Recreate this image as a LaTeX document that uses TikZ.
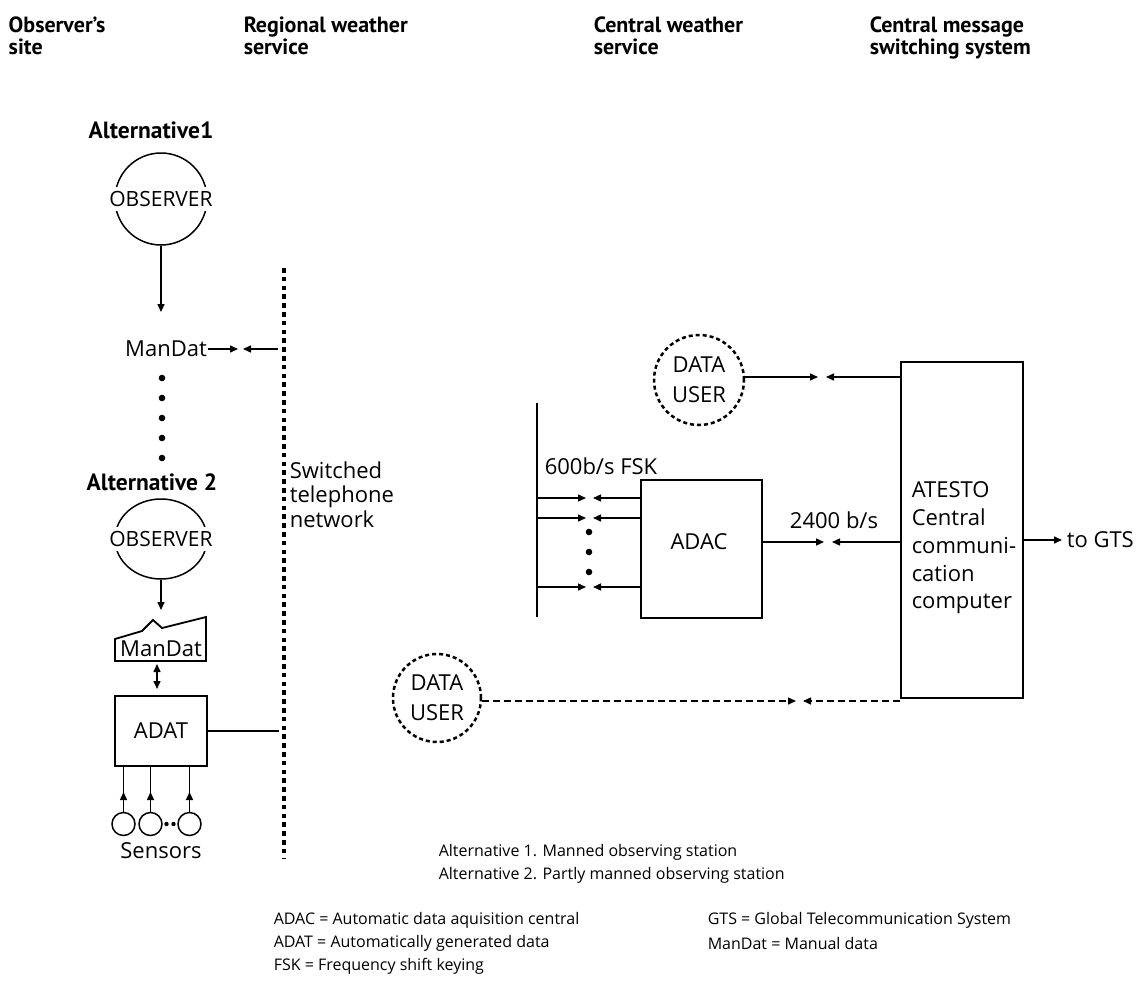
\documentclass[tikz,border=0pt]{standalone}
\usepackage{fontspec}
\setmainfont{Open Sans}
\newfontfamily\hdrfont{PT Sans}
\usetikzlibrary{arrows.meta,shapes.geometric,calc}
\begin{document}
\begin{tikzpicture}[x=1pt,y=-1pt,
  line width=1.5pt,
  lbl/.style={font=\fontsize{22}{25}\selectfont, inner sep=0pt},
  leg/.style={font=\fontsize{16}{24}\selectfont, inner sep=0pt, anchor=west},
  hdr/.style={font=\hdrfont\bfseries\fontsize{22}{22}\selectfont, align=left, anchor=north west, inner sep=0pt},
  alt/.style={font=\hdrfont\bfseries\fontsize{23.5}{24}\selectfont, inner sep=0pt},
  arr/.style={-{Triangle[length=8pt,width=7pt]}},
  darr/.style={{Triangle[length=8pt,width=7pt]}-{Triangle[length=8pt,width=7pt]}},
  boxnode/.style={draw, rectangle, line width=1.8pt, inner sep=0pt},
  dashcirc/.style={draw, circle, line width=2.5pt, dash pattern=on 4pt off 3pt, inner sep=0pt},
  netline/.style={line width=3.5pt, dash pattern=on 4.5pt off 4.3pt}
]
\useasboundingbox (0,0) rectangle (1140,980);

% headers
\node[hdr] (h1) at (8,16) {Observer’s\\site};
\node[hdr] (h2) at (243,16) {Regional weather\\service};
\node[hdr] (h3) at (593,16) {Central weather\\service};
\node[hdr] (h4) at (869,16) {Central message\\switching system};

% Alternative 1
\node[alt] (alt1) at (151,130) {Alternative1};
\node[draw, circle, minimum size=92pt, inner sep=0pt] (obs1) at (161,199) {};
\node[lbl, font=\fontsize{21}{25}\selectfont, fill=white, inner xsep=1pt, inner ysep=4pt] (obs1t) at (obs1.center) {OBSERVER};
\coordinate (m1tip) at (161,312);
\draw[arr] (obs1.south) -- (m1tip);

\node[lbl] (man1) at (166,349) {ManDat};
\coordinate (man1tip) at (238,349);
\coordinate (net1) at (278,349);
\coordinate (net1tip) at (243,349);
\draw[arr] (man1.east) -- (man1tip);
\draw[arr] (net1) -- (net1tip);

% dots column
\foreach \yy in {378,398,418,438,458} \fill (162,\yy) circle (3.3);

% Alternative 2
\node[alt] (alt2) at (152,482) {Alternative 2};
\node[draw, ellipse, minimum width=92pt, minimum height=80pt, inner sep=0pt] (obs2) at (161,539) {};
\node[lbl, font=\fontsize{21}{25}\selectfont, fill=white, inner xsep=1pt, inner ysep=4pt] (obs2t) at (obs2.center) {OBSERVER};
\coordinate (m2tip) at (161,610);
\draw[arr] (obs2.south) -- (m2tip);

% ManDat document
\draw[line width=1.8pt] (115,661) -- (115,639) -- (142,631) -- (153,620) -- (162,628) -- (206,617) -- (206,661) -- cycle;
\node[lbl] (man2) at (161,649) {ManDat};

% ADAT
\node[boxnode, minimum width=92pt, minimum height=70pt, lbl] (adat) at (161,731) {ADAT};
\coordinate (da) at (157,664);
\coordinate (db) at (157,689);
\draw[darr] (da) -- (db);

% sensors
\node[draw, circle, minimum size=23pt, inner sep=0pt] (s1) at (123.5,824) {};
\node[draw, circle, minimum size=23pt, inner sep=0pt] (s2) at (150.5,824) {};
\node[draw, circle, minimum size=23pt, inner sep=0pt] (s3) at (189.5,824) {};
\fill (166.5,824) circle (2.2);
\fill (173.5,824) circle (2.2);
\coordinate (stip) at (0,792);
\foreach \s in {s1,s2,s3} {
  \draw (\s.north) -- (\s.north |- adat.south);
  \draw[arr] (\s.north) -- (\s.north |- stip);
}
\node[lbl] (sens) at (161,851) {Sensors};

% switched network
\coordinate (nettop) at (284,268);
\coordinate (netbot) at (284,858);
\draw[netline] (nettop) -- (netbot);
\coordinate (adatnet) at (279,731);
\draw (adat.east) -- (adatnet);
\node[lbl, align=left, anchor=north west, font=\fontsize{22}{24.5}\selectfont] (netl) at (289,461) {Switched\\telephone\\network};

% ADAC area
\coordinate (bustop) at (537,403);
\coordinate (busbot) at (537,617);
\draw (bustop) -- (busbot);
\node[lbl, anchor=west] (fsk) at (544,466) {600b/s FSK};
\node[boxnode, minimum width=121pt, minimum height=138pt] (adac) at (701.5,549) {};
\node[lbl] (adact) at (699,542) {ADAC};
\foreach \yy in {498,518,587} {
  \draw[arr] (537,\yy) -- (586,\yy);
  \draw[arr] (adac.west |- 0,\yy) -- (593,\yy);
}
\foreach \yy in {532,552,572} \fill (589,\yy) circle (3.3);

% central computer
\node[boxnode, minimum width=122pt, minimum height=336pt] (cen) at (962,530) {};
\node[lbl, align=left, anchor=west, font=\fontsize{22}{27.7}\selectfont] (cent) at (911,548) {ATESTO\\Central\\communi-\\cation\\computer};

\coordinate (a1) at (824,542);
\coordinate (a2) at (832,542);
\draw[arr] (adac.east |- a1) -- (a1);
\draw[arr] (cen.west |- a2) -- (a2);
\node[lbl] (bps) at (834,520) {2400 b/s};

\coordinate (gts) at (1062,540);
\draw[arr] (cen.east |- gts) -- (gts);
\node[lbl, anchor=west] (gtst) at (1066,540) {to GTS};

% data users
\node[dashcirc, minimum size=90pt, align=center, font=\fontsize{22}{30}\selectfont] (du1) at (699,380) {DATA\\USER};
\coordinate (u1a) at (818,377);
\coordinate (u1b) at (826,377);
\draw[arr] (du1.east |- u1a) -- (u1a);
\draw[arr] (cen.west |- u1b) -- (u1b);

\node[dashcirc, minimum size=88pt, align=center, font=\fontsize{22}{30}\selectfont] (du2) at (437,698) {DATA\\USER};
\coordinate (u2a) at (796,701);
\coordinate (u2b) at (803,701);
\draw[arr, dash pattern=on 7pt off 4pt] (du2.east |- u2a) -- (u2a);
\draw[arr, dash pattern=on 7pt off 4pt] (cen.west |- u2b) -- (u2b);

% legends
\node[leg] (l1) at (438,852) {Alternative 1. Manned observing station};
\node[leg] (l2) at (438,875) {Alternative 2. Partly manned observing station};
\node[leg] (l3) at (273,920) {ADAC = Automatic data aquisition central};
\node[leg] (l4) at (273,943) {ADAT = Automatically generated data};
\node[leg] (l5) at (273,966) {FSK = Frequency shift keying};
\node[leg] (l6) at (707,920) {GTS = Global Telecommunication System};
\node[leg] (l7) at (707,943) {ManDat = Manual data};
\end{tikzpicture}
\end{document}
